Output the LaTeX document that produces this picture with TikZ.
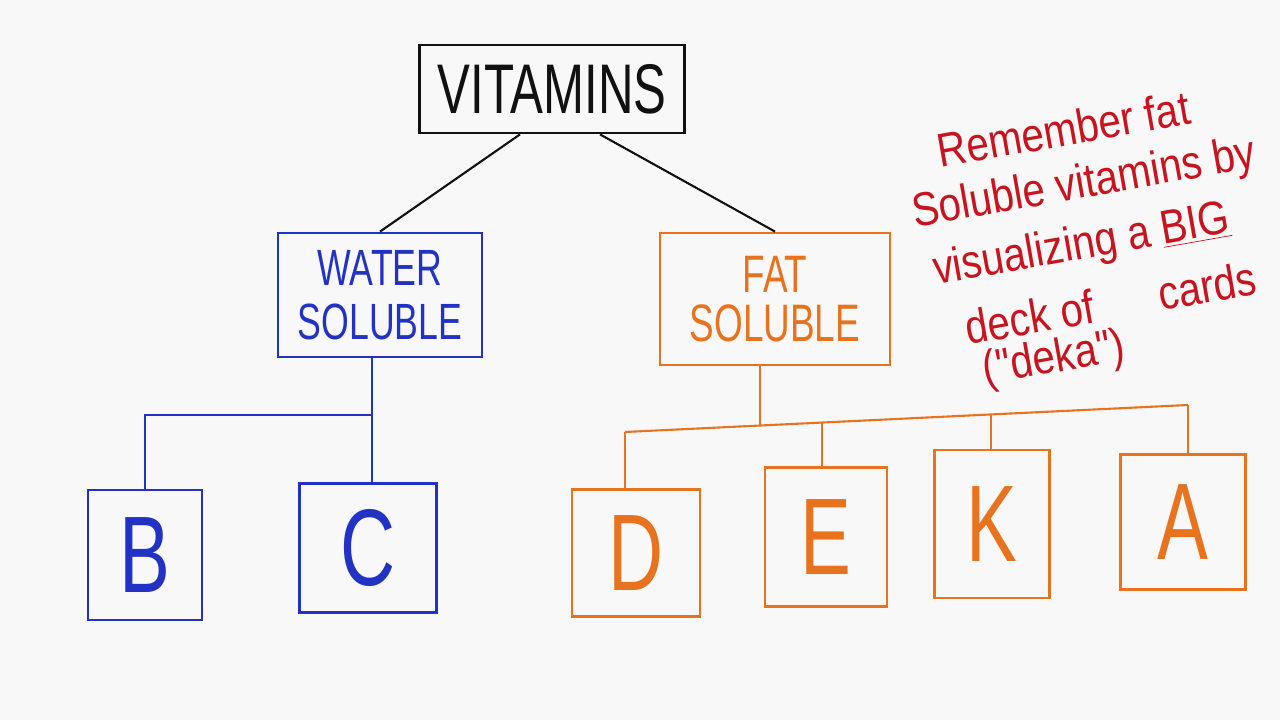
\documentclass[tikz,border=0pt]{standalone}
\usepackage{fontspec}
\newfontfamily\handfont[FakeStretch=0.7]{Liberation Sans}
\newfontfamily\notefont[FakeStretch=0.85]{Liberation Sans}
\usetikzlibrary{positioning, calc}
\definecolor{vitblack}{HTML}{111111}
\definecolor{vitblue}{HTML}{2233C4}
\definecolor{vitorange}{HTML}{E8731E}
\definecolor{vitred}{HTML}{C8141E}
\definecolor{vitpaper}{HTML}{F8F8F8}

\tikzset{
  groupbox/.style={draw, line width=1.6pt, inner sep=0pt, align=center, font=\handfont\fontsize{29}{31}\selectfont},
  letterbox/.style={draw, line width=1.6pt, inner sep=0pt, font=\handfont\fontsize{62}{62}\selectfont},
  link/.style={line width=1.2pt},
  note/.style={vitred, anchor=base west, inner sep=0pt, align=left, font=\notefont\fontsize{27}{31}\selectfont}
}

\begin{document}
\begin{tikzpicture}[x=0.02cm, y=0.02cm]
    \fill[vitpaper] (0,0) rectangle (1280,720);
    \useasboundingbox (0,0) rectangle (1280,720);

    % Top node
    \node[groupbox, vitblack, minimum width=5.3cm, minimum height=1.76cm, font=\handfont\fontsize{40}{40}\selectfont] (vitamins) at (552,631) {VITAMINS};

    % Groups
    \node[groupbox, vitblue, minimum width=4.08cm, minimum height=2.48cm] (water) at (380,425) {WATER\\SOLUBLE};
    \node[groupbox, vitorange, minimum width=4.6cm, minimum height=2.64cm, font=\handfont\fontsize{30}{28}\selectfont] (fat) at (775,421) {FAT\\SOLUBLE};
    \draw[link, vitblack] ($(vitamins.south)+(-32,0)$) -- (water.north);
    \draw[link, vitblack] ($(vitamins.south)+(48,0)$) -- (fat.north);

    % Water soluble vitamins
    \node[letterbox, vitblue, minimum width=2.28cm, minimum height=2.6cm] (b) at (145,165) {B};
    \node[letterbox, vitblue, minimum width=2.74cm, minimum height=2.58cm] (c) at (368,172) {C};
    \coordinate (wj) at (372,305);
    \draw[link, vitblue] (water.south -| wj) -- (c.north -| wj);
    \draw[link, vitblue] (b.north) |- (wj);

    % Fat soluble vitamins
    \node[letterbox, vitorange, minimum width=2.56cm, minimum height=2.54cm] (d) at (636,167) {D};
    \node[letterbox, vitorange, minimum width=2.44cm, minimum height=2.78cm] (e) at (826,183) {E};
    \node[letterbox, vitorange, minimum width=2.3cm, minimum height=2.96cm] (k) at (992,196) {K};
    \node[letterbox, vitorange, minimum width=2.5cm, minimum height=2.7cm] (a) at (1183,198) {A};
    \coordinate (fl) at (625,288);
    \coordinate (fr) at (1188,315);
    \coordinate (fj) at ($(fl)!0.24!(fr)$);
    \coordinate (ej) at ($(fl)!0.35!(fr)$);
    \coordinate (kj) at ($(fl)!0.65!(fr)$);
    \draw[link, vitorange] (fl) -- (fr);
    \draw[link, vitorange] (fat.south -| fj) -- (fj);
    \draw[link, vitorange] (fl) -- (fl |- d.north);
    \draw[link, vitorange] (ej) -- (ej |- e.north);
    \draw[link, vitorange] (kj) -- (kj |- k.north);
    \draw[link, vitorange] (fr) -- (fr |- a.north);

    % Memory note
    \node[note, rotate=10] (note) at (944,328) {\hspace*{20pt}Remember fat\\
      Soluble vitamins by\\[3pt]
      \hspace*{6pt}visualizing a \underline{BIG}\\[6pt]
      \hspace*{18pt}deck of\hspace{1.4em}cards\\[-7pt]
      \hspace*{24pt}("deka")};
\end{tikzpicture}
\end{document}
